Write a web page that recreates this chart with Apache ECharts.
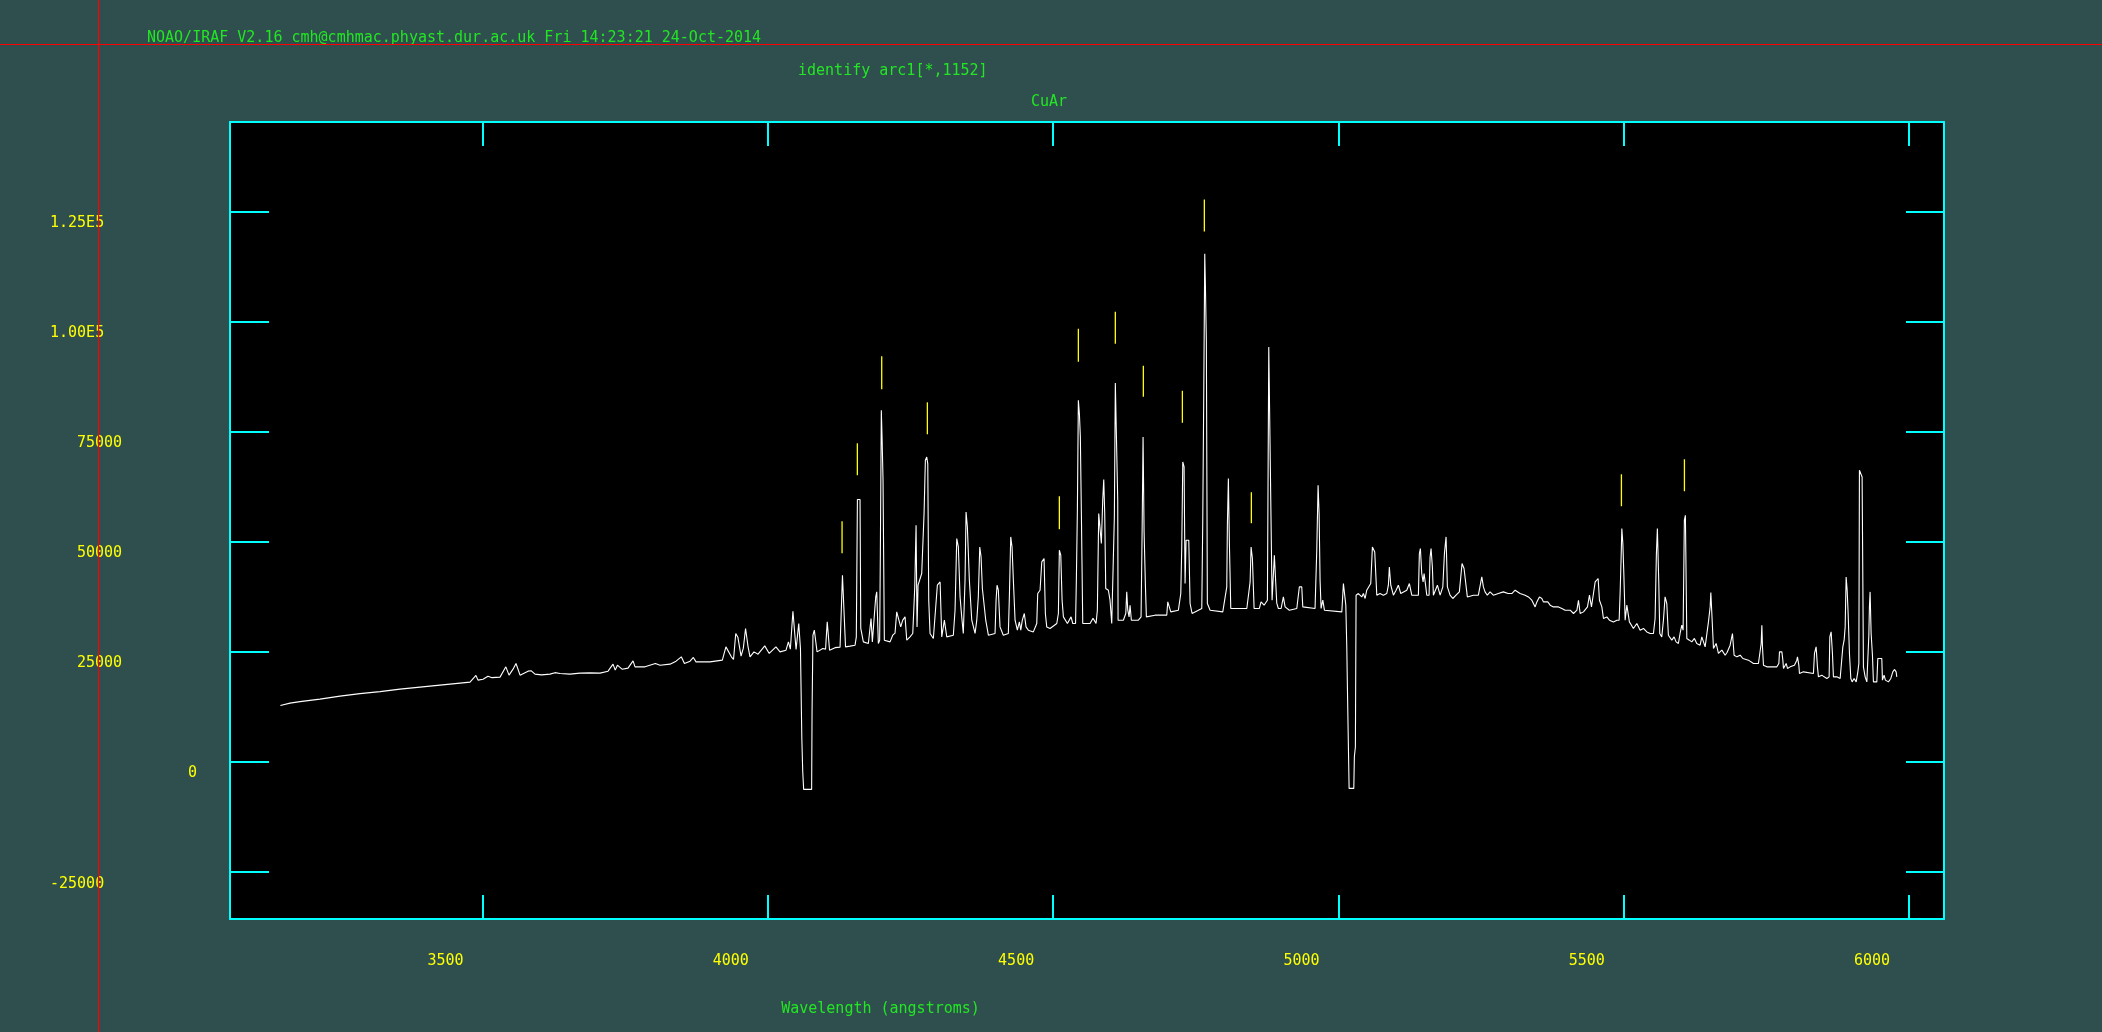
<!DOCTYPE html>
<html><head><meta charset="utf-8">
<script src="https://cdn.jsdelivr.net/npm/echarts@6/dist/echarts.min.js"></script>
<style>html,body{margin:0;padding:0;background:#2f4f4f;overflow:hidden;} #c{width:2102px;height:1032px;}</style>
</head><body><div id="c"></div>
<script>
// ---------- data ----------
const xTickValues = [3500, 4000, 4500, 5000, 5500, 6000];
const xTickLabels = ['3500', '4000', '4500', '5000', '5500', '6000'];
const yTickValues = [-25000, 0, 25000, 50000, 75000, 100000, 125000];
const yTickLabels = ['-25000', '0', '25000', '50000', '75000', '1.00E5', '1.25E5'];

const headerText = 'NOAO/IRAF V2.16 cmh@cmhmac.phyast.dur.ac.uk Fri 14:23:21 24-Oct-2014';
const taskText = 'identify arc1[*,1152]';
const titleText = 'CuAr';
const xAxisTitle = 'Wavelength (angstroms)';

// spectrum: [wavelength (A), counts]
const spectrum = [
[3145.8,12760],[3162.7,13280],[3180.2,13620],[3215.2,14190],[3250.3,14870],[3285.3,15440],[3320.4,15890],[3355.4,16460],
[3390.5,16920],[3425.5,17370],[3460.6,17830],[3478.1,18050],[3488.5,19570],[3492.1,18510],[3500.9,18730],[3509.6,19410],
[3516.7,19070],[3530.7,19190],[3540.9,21530],[3546.5,19640],[3553.5,21000],[3558.7,22300],[3565.8,19640],[3572.8,20100],
[3579.8,20550],[3585.0,20660],[3592.0,19870],[3603.4,19710],[3618.3,19870],[3627.1,20210],[3635.9,20030],[3653.4,19870],
[3670.9,20100],[3688.4,20160],[3706.0,20100],[3720.0,20550],[3728.7,22140],[3732.6,20780],[3736.4,21910],[3744.5,21000],
[3755.0,21230],[3763.8,22890],[3767.3,21530],[3784.8,21530],[3803.0,22300],[3811.1,21910],[3828.6,22140],[3839.2,22820],
[3848.4,23800],[3853.9,22300],[3863.7,22820],[3869.5,23660],[3874.2,22660],[3898.7,22660],[3920.3,23050],[3926.6,26070],
[3936.1,23800],[3939.9,23210],[3943.8,29110],[3947.5,28270],[3953.1,23960],[3957.1,25770],[3961.0,30250],[3965.4,26070],
[3968.8,23800],[3975.8,24930],[3982.9,24410],[3994.6,26300],[4002.5,24570],[4014.2,26070],[4021.4,24930],[4031.9,25320],
[4036.1,27200],[4039.5,25550],[4044.0,34170],[4049.5,25480],[4054.2,31380],[4057.2,25700],[4059.6,5270],[4061.2,-2320],
[4062.8,-6310],[4076.8,-6310],[4077.5,10940],[4079.1,28720],[4081.5,29860],[4086.3,24930],[4096.4,25700],[4101.2,25550],
[4104.1,31740],[4108.2,25320],[4117.8,25890],[4126.6,26000],[4130.8,42350],[4133.1,41960],[4136.2,26070],[4144.1,26230],
[4152.9,26450],[4155.1,28340],[4157.0,59540],[4161.6,59540],[4162.9,30250],[4164.6,30610],[4167.4,27200],[4176.2,26840],
[4179.1,26450],[4180.9,32520],[4183.2,27200],[4186.7,26840],[4189.1,37420],[4190.9,38560],[4193.7,26840],[4196.0,27590],
[4197.2,47280],[4198.9,79820],[4200.2,73750],[4201.9,63920],[4204.2,27590],[4214.2,27200],[4218.9,28720],[4222.9,29180],
[4225.9,34020],[4229.4,34400],[4232.9,30610],[4236.4,32130],[4240.5,32880],[4243.5,27590],[4249.2,28340],[4254.0,29110],
[4257.5,39690],[4259.8,53700],[4261.5,30610],[4263.3,40080],[4266.8,40080],[4269.7,42730],[4272.0,42730],[4273.8,56360],
[4276.1,68460],[4278.5,69210],[4280.3,67710],[4282.0,36670],[4284.3,29110],[4290.1,27980],[4293.1,28340],[4297.1,40080],
[4299.6,40460],[4301.9,40830],[4304.8,28340],[4307.6,28340],[4309.4,32130],[4311.1,30610],[4313.6,28340],[4325.1,28720],
[4328.1,34400],[4331.1,50680],[4333.9,48770],[4336.9,37420],[4339.8,32880],[4342.6,29110],[4345.6,41210],[4347.4,56720],
[4349.7,53320],[4353.2,41210],[4357.4,32130],[4363.2,29110],[4366.2,32130],[4368.9,37420],[4371.4,48770],[4373.7,46500],
[4376.0,39330],[4378.9,38940],[4381.9,32130],[4386.5,28720],[4398.2,29110],[4400.0,36670],[4401.7,40080],[4404.0,38940],
[4406.9,30610],[4412.7,28720],[4421.5,29110],[4423.3,37420],[4425.7,51050],[4428.0,48770],[4430.3,41210],[4433.3,32130],
[4437.3,29860],[4440.8,31740],[4443.3,29860],[4446.0,32130],[4449.5,33650],[4452.5,30610],[4456.5,29860],[4465.3,29470],
[4471.3,31380],[4473.0,38190],[4477.1,38940],[4480.1,45370],[4484.1,46140],[4486.4,33650],[4488.8,30610],[4494.6,30250],
[4506.4,31380],[4509.2,33650],[4510.9,48030],[4513.4,46890],[4515.7,36670],[4518.0,32880],[4525.0,31380],[4531.4,32880],
[4534.4,31380],[4539.3,31380],[4540.7,41210],[4542.5,57110],[4544.2,82090],[4546.0,79070],[4547.7,73750],[4549.5,56360],
[4551.9,31380],[4564.7,31380],[4569.9,32580],[4575.2,31380],[4577.5,34400],[4579.9,56360],[4582.2,55970],[4584.5,49550],
[4586.9,59380],[4588.7,64080],[4590.4,56360],[4592.2,39330],[4596.8,38940],[4599.7,36670],[4602.7,31380],[4605.5,31380],
[4607.3,55590],[4609.0,86010],[4612.0,85720],[4613.2,59380],[4613.8,32130],[4623.1,32130],[4627.3,33650],[4629.0,38560],
[4630.8,34400],[4633.1,32880],[4634.8,35540],[4637.1,32130],[4649.4,32130],[4654.1,32880],[4655.9,51820],[4657.6,73750],
[4659.4,52180],[4661.7,40080],[4663.4,32880],[4678.6,33270],[4699.1,33270],[4700.9,36290],[4703.2,36670],[4706.2,34020],
[4719.5,34400],[4723.7,38190],[4725.4,48770],[4727.2,68080],[4729.5,66940],[4731.2,40460],[4733.0,50300],[4737.7,50300],
[4740.0,35920],[4743.5,33650],[4760.5,34790],[4762.2,54840],[4764.0,84360],[4765.7,115400],[4766.8,108590],[4768.5,95710],
[4770.3,35920],[4775.1,34400],[4797.3,34020],[4804.3,39690],[4805.4,54090],[4807.1,64310],[4808.9,49550],[4811.3,34790],
[4839.4,34790],[4845.2,40830],[4846.9,48770],[4849.2,46140],[4852.2,34790],[4861.4,34790],[4864.4,36290],[4869.7,35540],
[4875.5,36670],[4877.9,94190],[4881.4,94580],[4883.7,36670],[4887.7,46890],[4891.9,35990],[4894.7,34790],[4899.5,34790],
[4903.5,37420],[4906.5,35150],[4914.0,34400],[4927.0,34790],[4931.5,39690],[4935.7,39690],[4937.5,35150],[4959.0,34790],
[4962.0,48030],[4964.3,62790],[4966.1,56360],[4967.8,41210],[4969.6,34790],[4972.6,36670],[4975.4,34400],[5005.9,34020],
[5008.7,40460],[5011.1,40460],[5012.9,35540],[5014.6,26070],[5015.7,16980],[5016.9,7540],[5018.7,-6090],[5026.9,-6090],
[5027.9,1090],[5029.7,3360],[5030.9,37810],[5034.9,38190],[5040.9,37420],[5043.7,38190],[5046.7,37060],[5049.6,38940],
[5053.1,38940],[5056.6,40460],[5059.5,48770],[5063.6,47640],[5067.2,37810],[5072.9,38190],[5078.7,37810],[5084.7,38190],
[5087.5,40080],[5089.2,44230],[5091.7,40080],[5096.3,37810],[5101.0,38940],[5105.0,40080],[5109.2,38190],[5119.7,38940],
[5124.3,40460],[5127.3,40460],[5128.5,37810],[5140.1,37810],[5141.8,47280],[5143.6,48410],[5146.0,42730],[5148.3,40830],
[5150.1,42730],[5153.1,39690],[5154.8,37810],[5158.8,37810],[5160.6,46500],[5162.3,48410],[5164.6,44230],[5166.4,37810],
[5173.4,40080],[5176.4,40080],[5178.2,37810],[5182.9,39690],[5185.7,47280],[5188.6,51050],[5190.9,39690],[5195.6,37810],
[5200.4,37060],[5206.1,37810],[5211.9,38560],[5214.4,41960],[5216.6,45010],[5220.1,43870],[5223.1,43480],[5225.9,37420],
[5236.4,37810],[5245.2,37810],[5248.1,38190],[5251.2,41960],[5254.0,39690],[5256.9,38560],[5260.9,37810],[5265.7,38560],
[5271.5,37810],[5280.2,38190],[5289.0,38560],[5297.3,38190],[5303.8,38190],[5309.6,38940],[5318.3,38190],[5327.1,37810],
[5332.9,37420],[5338.9,36670],[5344.7,35150],[5347.7,36290],[5352.2,37420],[5356.4,37060],[5359.2,36290],[5366.9,36290],
[5371.0,35540],[5376.8,35150],[5385.6,35150],[5391.5,34790],[5397.3,34400],[5406.1,34400],[5411.9,33650],[5417.9,34400],
[5420.6,36670],[5423.6,33650],[5429.4,34020],[5436.4,35150],[5439.9,37810],[5443.4,35150],[5446.9,38190],[5449.9,40830],
[5455.1,41600],[5457.4,36670],[5461.6,35150],[5464.4,32520],[5470.3,32880],[5474.9,32130],[5481.9,31740],[5487.9,32130],
[5491.9,32130],[5493.6,38190],[5495.4,46500],[5496.6,52950],[5498.4,49550],[5500.1,42730],[5502.4,32130],[5505.4,35540],
[5507.6,35920],[5509.9,31740],[5516.9,30250],[5522.9,31380],[5528.7,29860],[5534.5,30250],[5540.4,29470],[5546.2,29110],
[5552.0,29110],[5554.9,32520],[5557.2,47280],[5558.9,52950],[5561.4,40460],[5563.1,29110],[5566.6,28340],[5569.5,32130],
[5572.4,37420],[5575.4,35920],[5578.2,28720],[5584.2,27590],[5588.2,28340],[5591.7,27200],[5595.7,26840],[5598.7,29110],
[5601.7,31000],[5604.0,29860],[5606.2,54840],[5608.0,55970],[5610.5,27980],[5615.0,27590],[5619.2,27200],[5623.8,27980],
[5628.0,26840],[5633.8,26450],[5636.8,28340],[5642.6,26070],[5646.1,26450],[5648.4,31740],[5651.4,35150],[5652.6,38420],
[5654.9,32130],[5657.2,25700],[5661.9,26840],[5665.9,24570],[5671.9,25320],[5677.7,24180],[5681.2,24860],[5686.4,26450],
[5690.5,29110],[5693.4,24180],[5698.2,23800],[5704.0,24180],[5708.7,23430],[5718.5,23050],[5727.3,22300],[5736.0,22300],
[5739.0,22660],[5740.8,26840],[5742.0,31000],[5743.1,26070],[5744.8,21910],[5750.8,21530],[5768.3,21530],[5771.8,22300],
[5772.9,24930],[5777.1,24930],[5778.8,23050],[5779.9,21160],[5782.8,21530],[5784.6,22300],[5786.9,21160],[5791.6,21530],
[5794.5,21160],[5799.1,21910],[5803.3,23050],[5804.4,23800],[5806.8,21910],[5807.9,20030],[5814.9,20390],[5817.9,20030],
[5832.4,20030],[5834.2,24570],[5837.1,26070],[5839.4,21530],[5841.2,19260],[5847.1,19640],[5851.2,19260],[5855.9,18890],
[5859.9,19260],[5861.1,28340],[5863.4,29470],[5865.7,24570],[5867.4,19260],[5873.4,19260],[5879.2,18890],[5882.7,18890],
[5883.9,26070],[5886.2,27590],[5888.0,30610],[5889.7,41960],[5891.5,38940],[5893.2,33650],[5895.5,24570],[5897.9,18890],
[5900.2,18120],[5903.7,18890],[5907.3,18120],[5910.2,20390],[5912.0,22300],[5913.0,66190],[5915.5,65810],[5917.7,64670],
[5920.0,21530],[5923.0,19260],[5926.0,18120],[5928.3,18120],[5929.5,28720],[5930.5,35150],[5931.7,38560],[5933.5,29110],
[5935.8,24180],[5937.5,18120],[5943.5,18120],[5945.2,23430],[5952.2,23430],[5953.3,18510],[5956.2,19640],[5958.5,18510],
[5963.8,18120],[5968.0,18890],[5971.5,20390],[5974.3,20940],[5977.3,20390],[5978.5,19260]
];

// identified-line marks: wavelength, mark bottom, mark top (counts)
const lineWave = [4130.1, 4156.9, 4199.6, 4279.6, 4510.9, 4544.2, 4609.0, 4658.1, 4726.5, 4765.0, 4847.4, 5495.9, 5606.3];
const lineMarkLow = [47340, 65060, 84590, 74370, 52800, 90850, 94930, 82890, 76980, 120460, 54160, 58020, 61430];
const lineMarkHigh = [54610, 72320, 92080, 81630, 60290, 98340, 102200, 89930, 84250, 127730, 61200, 65280, 68690];

// ---------- styles ----------
const MONO = '"DejaVu Sans Mono", "Liberation Mono", monospace';
const GREEN = '#22e622';
const YELLOW = '#ffff00';
const CYAN = '#00ffff';
const yLabelIndent = {'75000': 27, '50000': 27, '25000': 27, '0': 138};

const chart = echarts.init(document.getElementById('c'), null, {renderer: 'canvas'});

const axisLineStyle = {show: true, onZero: false, lineStyle: {color: CYAN, width: 2}};
const labelText = {fontFamily: MONO, fontSize: 15, color: YELLOW};
const titleStyle = {fontFamily: MONO, fontSize: 15, fontWeight: 'normal', color: GREEN};

chart.setOption({
  animation: false,
  backgroundColor: '#2f4f4f',
  title: [
    {text: headerText, left: 147, top: 31, padding: 0, textStyle: titleStyle},
    {text: taskText, left: 798, top: 64, padding: 0, textStyle: titleStyle},
    {text: titleText, left: 1031, top: 95, padding: 0, textStyle: titleStyle}
  ],
  grid: {left: 230, top: 122, width: 1714, height: 797, show: true, backgroundColor: '#000000', borderWidth: 0},
  xAxis: [
    {
      type: 'value', position: 'bottom', min: 3057.5, max: 6061.2,
      axisLine: axisLineStyle,
      axisTick: {show: true, inside: true, length: 24, customValues: xTickValues, lineStyle: {color: CYAN, width: 2}},
      axisLabel: Object.assign({show: true, customValues: xTickValues, margin: 35, padding: [0, 74, 0, 0],
        formatter: v => xTickLabels[xTickValues.indexOf(v)]}, labelText),
      splitLine: {show: false},
      name: xAxisTitle, nameLocation: 'middle', nameGap: 83,
      nameTextStyle: {fontFamily: MONO, fontSize: 15, color: GREEN, padding: [0, 413, 0, 0]}
    },
    {
      type: 'value', position: 'top', min: 3057.5, max: 6061.2,
      axisLine: axisLineStyle,
      axisTick: {show: true, inside: true, length: 24, customValues: xTickValues, lineStyle: {color: CYAN, width: 2}},
      axisLabel: {show: false},
      splitLine: {show: false}
    }
  ],
  yAxis: [
    {
      type: 'value', position: 'left', min: -35760, max: 145320,
      axisLine: axisLineStyle,
      axisTick: {show: true, inside: true, length: 39, customValues: yTickValues, lineStyle: {color: CYAN, width: 2}},
      axisLabel: {
        show: true, customValues: yTickValues, margin: 180, align: 'left', padding: [24, 0, 0, 0],
        formatter: v => {
          const t = yTickLabels[yTickValues.indexOf(v)];
          const ind = yLabelIndent[t] || 0;
          return ind ? '{sp' + ind + '| }{t|' + t + '}' : '{t|' + t + '}';
        },
        rich: {
          t: {fontFamily: MONO, fontSize: 15, color: YELLOW},
          sp27: {width: 27, fontFamily: MONO, fontSize: 15},
          sp138: {width: 138, fontFamily: MONO, fontSize: 15}
        }
      },
      splitLine: {show: false}
    },
    {
      type: 'value', position: 'right', min: -35760, max: 145320,
      axisLine: axisLineStyle,
      axisTick: {show: true, inside: true, length: 38, customValues: yTickValues, lineStyle: {color: CYAN, width: 2}},
      axisLabel: {show: false},
      splitLine: {show: false}
    }
  ],
  series: [
    {
      type: 'line', xAxisIndex: 0, yAxisIndex: 0, data: spectrum,
      symbol: 'none', showSymbol: false, silent: true, sampling: null,
      lineStyle: {color: '#ffffff', width: 1.1}, z: 3
    },
    {
      type: 'custom', xAxisIndex: 0, yAxisIndex: 0, silent: true, z: 4,
      data: lineWave.map((w, i) => [w, lineMarkLow[i], lineMarkHigh[i]]),
      encode: {x: 0, y: [1, 2]},
      renderItem: (params, api) => {
        const p1 = api.coord([api.value(0), api.value(1)]);
        const p2 = api.coord([api.value(0), api.value(2)]);
        return {type: 'line', shape: {x1: p1[0], y1: p1[1], x2: p2[0], y2: p2[1]},
                style: {stroke: YELLOW, lineWidth: 1.3}};
      }
    }
  ],
  graphic: [
    {type: 'line', z: 100, silent: true, shape: {x1: 0, y1: 44.5, x2: 2102, y2: 44.5}, style: {stroke: '#ff0000', lineWidth: 1.2}},
    {type: 'line', z: 100, silent: true, shape: {x1: 98.5, y1: 0, x2: 98.5, y2: 1032}, style: {stroke: '#ff0000', lineWidth: 1.2}}
  ]
});
</script>
</body></html>
